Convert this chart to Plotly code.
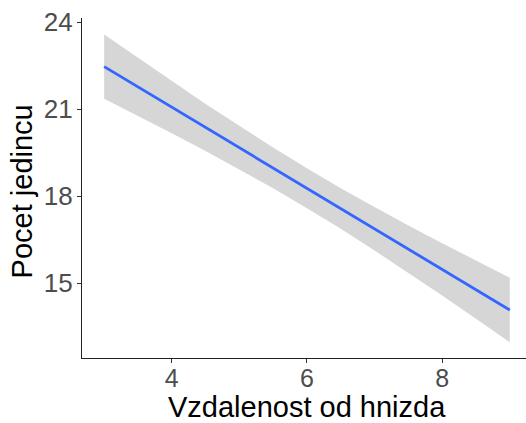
import plotly.graph_objects as go

x_vals = [3.0, 3.5, 4.0, 4.5, 5.0, 5.5, 6.0, 6.5, 7.0, 7.5, 8.0, 8.5, 9.0]
fit_vals = [22.46, 21.76, 21.06, 20.36, 19.67, 18.97, 18.27, 17.57, 16.87, 16.17, 15.47, 14.77, 14.07]
upper_vals = [23.57, 22.76, 21.96, 21.17, 20.42, 19.67, 18.96, 18.27, 17.62, 16.98, 16.37, 15.77, 15.18]
lower_vals = [21.35, 20.76, 20.16, 19.55, 18.92, 18.27, 17.58, 16.87, 16.12, 15.36, 14.57, 13.77, 12.96]

x_ticks = [4, 6, 8]
y_ticks = [15, 18, 21, 24]
x_title = "Vzdalenost od hnizda"
y_title = "Pocet jedincu"

fig = go.Figure()
fig.add_trace(go.Scatter(x=x_vals, y=lower_vals, mode="lines", line=dict(width=0),
                         showlegend=False, hoverinfo="skip"))
fig.add_trace(go.Scatter(x=x_vals, y=upper_vals, mode="lines", line=dict(width=0),
                         fill="tonexty", fillcolor="rgba(153,153,153,0.4)",
                         showlegend=False, hoverinfo="skip"))
fig.add_trace(go.Scatter(x=x_vals, y=fit_vals, mode="lines",
                         line=dict(color="#3366FF", width=2.8), showlegend=False))

font_family = "Liberation Sans, Arial, sans-serif"
fig.update_layout(
    width=526, height=423,
    margin=dict(l=82, r=0, t=18, b=65),
    paper_bgcolor="white", plot_bgcolor="white",
    font=dict(family=font_family),
    xaxis=dict(range=[2.672, 9.24], tickvals=x_ticks, showgrid=False, zeroline=False,
               showline=True, linecolor="#222222", linewidth=1.1,
               ticks="outside", ticklen=4, tickcolor="#333333", tickwidth=1.1,
               ticklabelstandoff=-6,
               tickfont=dict(size=25, color="#4D4D4D", family=font_family)),
    yaxis=dict(range=[12.414, 24.138], tickvals=y_ticks, showgrid=False, zeroline=False,
               showline=True, linecolor="#222222", linewidth=1.1,
               ticks="outside", ticklen=4, tickcolor="#333333", tickwidth=1.1,
               ticklabelstandoff=-1,
               tickfont=dict(size=26, color="#4D4D4D", family=font_family)),
    annotations=[
        dict(text=x_title, xref="x", yref="paper", x=6, y=0, xanchor="center",
             yanchor="top", yshift=-31, showarrow=False,
             font=dict(size=29, color="black", family=font_family)),
        dict(text=y_title, xref="paper", yref="paper", x=0, y=0.49, xanchor="center",
             yanchor="middle", xshift=-60, textangle=-90, showarrow=False,
             font=dict(size=29, color="black", family=font_family)),
    ],
)

fig.write_html("out.html")
